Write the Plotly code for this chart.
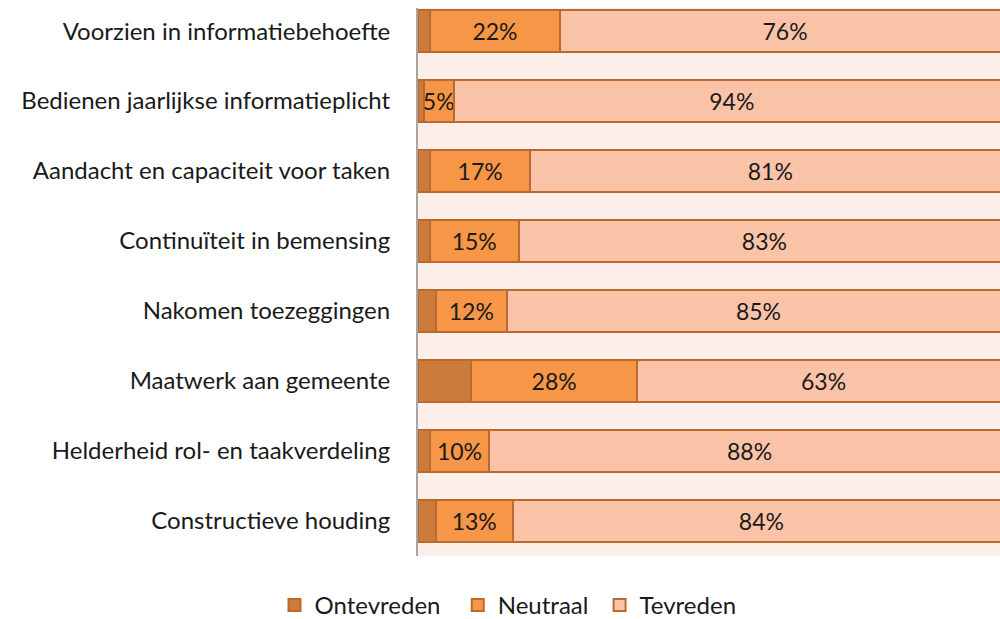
import plotly.graph_objects as go

categories = [
    "Voorzien in informatiebehoefte",
    "Bedienen jaarlijkse informatieplicht",
    "Aandacht en capaciteit voor taken",
    "Continuïteit in bemensing",
    "Nakomen toezeggingen",
    "Maatwerk aan gemeente",
    "Helderheid rol- en taakverdeling",
    "Constructieve houding",
]
ontevreden = [2, 1, 2, 2, 3, 9, 2, 3]
neutraal = [22, 5, 17, 15, 12, 28, 10, 13]
tevreden = [76, 94, 81, 83, 85, 63, 88, 84]

series = [
    ("Ontevreden", ontevreden, "#CC7B3A", False, "\u00a0\u00a0"),
    ("Neutraal", neutraal, "#F79646", True, "\u00a0"),
    ("Tevreden", tevreden, "#FAC3A8", True, ""),
]

font_family = "Lato, Carlito, Calibri, sans-serif"
fig = go.Figure()
for name, vals, color, show_text, pad in series:
    fig.add_trace(go.Bar(
        name=name + pad,
        y=categories,
        x=vals,
        orientation="h",
        width=0.6,
        marker=dict(color=color, line=dict(color="#BA6A2E", width=2)),
        text=[f"{v}%" for v in vals] if show_text else None,
        textposition="inside" if show_text else "none",
        insidetextanchor="middle",
        textangle=0,
        textfont=dict(family=font_family, size=23, color="#1a1a1a"),
        constraintext="none",
        cliponaxis=True,
    ))

fig.update_layout(
    barmode="stack",
    width=1000,
    height=619,
    margin=dict(l=418, r=0, t=8, b=63),
    paper_bgcolor="white",
    plot_bgcolor="#FCEEE9",
    font=dict(family=font_family, size=24, color="#1a1a1a"),
    uniformtext=dict(mode=False),
    showlegend=True,
    legend=dict(
        orientation="h",
        xref="container", yref="container",
        x=0.508, xanchor="center",
        y=0.022, yanchor="middle",
        font=dict(family=font_family, size=24, color="#1a1a1a"),
        itemwidth=30,
        traceorder="normal",
    ),
)
fig.update_xaxes(
    range=[0, 98.3],
    showgrid=False,
    zeroline=False,
    showticklabels=False,
    ticks="",
    showline=False,
)
fig.update_yaxes(
    type="category",
    categoryorder="array",
    categoryarray=categories,
    range=[7.5, -0.33],
    showgrid=False,
    zeroline=False,
    showline=True,
    linecolor="#A6A6A6",
    linewidth=2,
    ticks="",
    ticklabelstandoff=21,
    tickfont=dict(family=font_family, size=24, color="#1a1a1a"),
)

fig.write_html("out.html", config={"displayModeBar": False},
               post_script="document.body.style.margin='0';")
